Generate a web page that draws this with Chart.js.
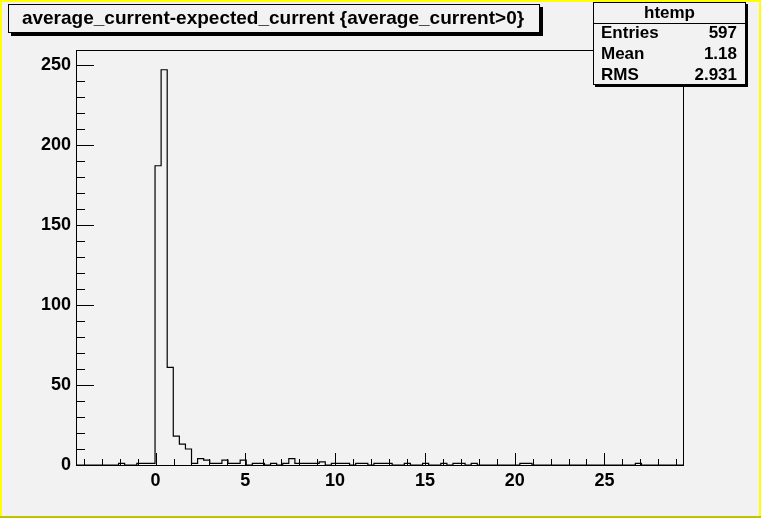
<!DOCTYPE html>
<html lang="en">
<head>
<meta charset="UTF-8">
<title>htemp</title>
<script src="https://cdn.jsdelivr.net/npm/chart.js"></script>
<style>
  html, body { margin: 0; padding: 0; background: #f2f2f2; }
  #wrap { width: 761px; height: 518px; }
</style>
</head>
<body>
<div id="wrap"><canvas id="histo" width="761" height="518"></canvas></div>
<script>
// htemp: 100 bins between xLow and xHigh
const xLow = -4.43;
const xHigh = 29.43;
const counts = [
  0, 0, 0, 0, 0, 0, 0, 1, 0, 0,
  1, 1, 1, 187, 247, 61, 18, 13, 10, 1,
  4, 3, 1, 1, 3, 1, 1, 3, 0, 1,
  1, 0, 1, 0, 1, 4, 1, 1, 1, 1,
  2, 0, 1, 1, 1, 0, 1, 1, 0, 1,
  1, 1, 0, 0, 1, 0, 0, 1, 0, 0,
  1, 0, 1, 1, 0, 1, 0, 0, 0, 0,
  0, 0, 0, 1, 1, 0, 0, 0, 0, 0,
  0, 0, 0, 0, 0, 0, 0, 0, 0, 0,
  0, 0, 1, 0, 0, 0, 0, 0, 0, 0
];
const xTicks = [0, 5, 10, 15, 20, 25];
const yTicks = [0, 50, 100, 150, 200, 250];
const yMax = 259.35;
const titleText = 'average_current-expected_current {average_current>0}';
const statName = 'htemp';
const statLabels = ['Entries', 'Mean', 'RMS'];
const statValues = ['597', '1.18', '2.931'];

const FONT = '"Liberation Sans", Arial, Helvetica, sans-serif';
const binW = (xHigh - xLow) / counts.length;

// left edge of each bin carries its value, last point closes the outline
const points = counts.map((c, i) => ({ x: xLow + i * binW, y: c }));
points.push({ x: xHigh, y: counts[counts.length - 1] });

const rootPad = {
  id: 'rootPad',
  beforeDraw(chart) {
    const ctx = chart.ctx;
    const w = chart.width, h = chart.height;
    ctx.save();
    ctx.fillStyle = '#f2f2f2';
    ctx.fillRect(0, 0, w, h);
    // canvas border
    ctx.fillStyle = '#ffff00';
    ctx.fillRect(0, 0, w, 2);
    ctx.fillRect(0, 0, 2, h);
    ctx.fillRect(w - 2, 0, 2, h);
    ctx.fillStyle = '#c2c200';
    ctx.fillRect(0, h - 2, w, 2);
    ctx.restore();
  },
  afterDraw(chart) {
    const ctx = chart.ctx;
    const a = chart.chartArea;
    const xs = chart.scales.x, ys = chart.scales.y;
    ctx.save();
    ctx.strokeStyle = '#000';
    ctx.lineWidth = 1;
    // frame
    ctx.strokeRect(a.left + 0.5, a.top + 0.5, a.right - a.left - 1, a.bottom - a.top);
    // x ticks (major + minor, inside)
    ctx.beginPath();
    for (let v = Math.ceil(xLow); v <= xHigh; v++) {
      const px = Math.round(xs.getPixelForValue(v)) + 0.5;
      const len = xTicks.includes(v) ? 12 : 6;
      ctx.moveTo(px, a.bottom);
      ctx.lineTo(px, a.bottom - len);
    }
    // y ticks
    for (let v = 0; v <= yMax; v += 10) {
      const py = Math.round(ys.getPixelForValue(v)) + 0.5;
      const len = yTicks.includes(v) ? 18 : 9;
      ctx.moveTo(a.left, py);
      ctx.lineTo(a.left + len, py);
    }
    ctx.stroke();

    // title box
    ctx.fillStyle = '#000';
    ctx.fillRect(11, 7, 532, 29);
    ctx.fillStyle = '#f2f2f2';
    ctx.fillRect(8, 4, 532, 29);
    ctx.strokeRect(8.5, 4.5, 531, 28);
    ctx.fillStyle = '#000';
    ctx.font = 'bold 19px ' + FONT;
    ctx.textAlign = 'center';
    ctx.textBaseline = 'middle';
    ctx.fillText(titleText, 273, 19);

    // stats box
    ctx.fillStyle = '#000';
    ctx.fillRect(595, 4, 153, 83);
    ctx.fillStyle = '#f2f2f2';
    ctx.fillRect(593, 2, 153, 83);
    ctx.strokeRect(593.5, 2.5, 152, 82);
    ctx.beginPath();
    ctx.moveTo(593, 23.5);
    ctx.lineTo(746, 23.5);
    ctx.stroke();
    ctx.fillStyle = '#000';
    ctx.font = 'bold 17px ' + FONT;
    ctx.fillText(statName, 669.5, 13);
    statLabels.forEach((lab, i) => {
      const y = 33 + i * 21;
      ctx.textAlign = 'left';
      ctx.fillText(lab, 601, y);
      ctx.textAlign = 'right';
      ctx.fillText(statValues[i], 737, y);
    });
    ctx.restore();
  }
};

new Chart(document.getElementById('histo'), {
  type: 'line',
  data: {
    datasets: [{
      data: points,
      stepped: true,
      borderColor: '#000',
      borderWidth: 1.2,
      pointRadius: 0,
      fill: false
    }]
  },
  options: {
    responsive: false,
    animation: false,
    layout: { padding: { left: 0, top: 50, right: 77, bottom: 0 } },
    plugins: { legend: { display: false }, tooltip: { enabled: false } },
    scales: {
      x: {
        type: 'linear',
        min: xLow,
        max: xHigh,
        grid: { display: false, drawTicks: false },
        border: { display: false },
        afterBuildTicks: s => { s.ticks = xTicks.map(v => ({ value: v })); },
        afterFit: s => { s.height = 53; },
        ticks: { color: '#000', padding: 5, maxRotation: 0, font: { family: FONT, weight: 'bold', size: 18 } }
      },
      y: {
        min: 0,
        max: yMax,
        grid: { display: false, drawTicks: false },
        border: { display: false },
        afterBuildTicks: s => { s.ticks = yTicks.map(v => ({ value: v })); },
        afterFit: s => { s.width = 76; },
        ticks: { color: '#000', padding: 5, font: { family: FONT, weight: 'bold', size: 18 } }
      }
    }
  },
  plugins: [rootPad]
});
</script>
</body>
</html>
